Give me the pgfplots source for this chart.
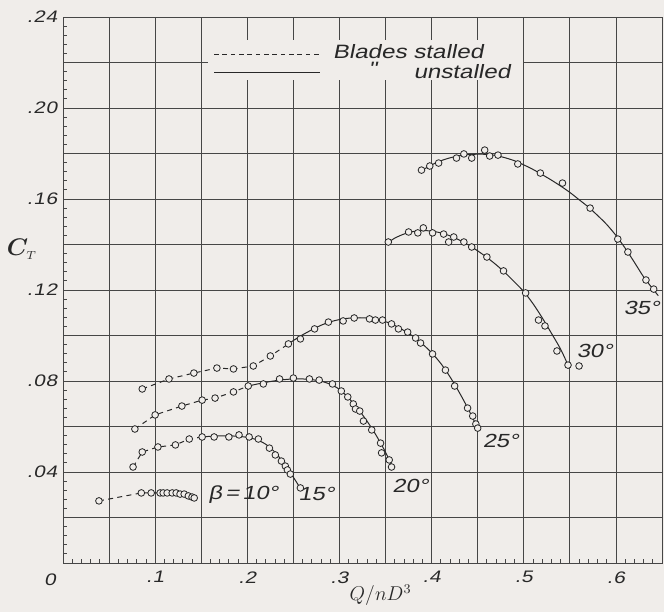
\documentclass[border=0pt]{standalone}
\usepackage{pgfplots}
\pgfplotsset{compat=1.18}
\usepackage{bm}
\usepackage{fontspec}
\usetikzlibrary{backgrounds}
\newfontfamily\lf{Liberation Sans}[FakeStretch=1.25,FakeSlant=0.2]
\definecolor{bgc}{RGB}{240,237,234}
\definecolor{linec}{RGB}{40,40,40}
\definecolor{gridc}{RGB}{70,70,70}
\pgfplotsset{
  dsh/.style={linec,line width=0.6pt,dash pattern=on 3pt off 2.6pt,mark=*,mark size=2.0pt,mark options={solid,fill=bgc,draw=linec,line width=0.5pt}},
  pts/.style={only marks,mark=*,mark size=2.0pt,mark options={solid,fill=bgc,draw=linec,line width=0.5pt}},
  crv/.style={linec,line width=0.6pt,no marks,smooth},
}
\begin{document}
\begin{tikzpicture}
\begin{axis}[name=ax,
  scale only axis, width=359.4pt, height=327.6pt,
  xmin=0, xmax=0.65, ymin=0, ymax=0.24,
  clip=false,
  xtick={0,0.05,0.1,0.15,0.2,0.25,0.3,0.35,0.4,0.45,0.5,0.55,0.6,0.65},
  xticklabels={,,.1,,.2,,.3,,.4,,.5,,.6,},
  ytick={0,0.02,0.04,0.06,0.08,0.1,0.12,0.14,0.16,0.18,0.2,0.22,0.24},
  yticklabels={,,.04,,.08,,.12,,.16,,.20,,.24},
  minor x tick num=4, minor y tick num=4,
  major tick length=0pt, minor tick length=2.6pt,
  tick pos=left, tick align=inside,
  grid=major,
  major grid style={line width=0.5pt,color=gridc},
  minor tick style={line width=0.5pt,color=gridc},
  axis line style={line width=0.6pt,color=gridc},
  ticklabel style={font=\lf\fontsize{10}{12}\selectfont\addfontfeature{LetterSpace=4},text=linec},
  xticklabel shift=1.5pt, yticklabel shift=0pt,
]
% legend patch
\fill[bgc] (axis cs:0.1576,0.2123) rectangle (axis cs:0.4995,0.2299);
\draw[linec,line width=0.6pt,dash pattern=on 2.8pt off 2.2pt] (axis cs:0.164,0.2233) -- (axis cs:0.279,0.2233);
\draw[linec,line width=0.6pt] (axis cs:0.164,0.2154) -- (axis cs:0.279,0.2154);
\node[anchor=west,inner sep=0pt,font=\lf\fontsize{11.6}{13}\selectfont,text=linec] at (axis cs:0.2924,0.2246) {Blades stalled};
\node[anchor=center,inner sep=0pt,font=\lf\fontsize{11.6}{13}\selectfont,text=linec] at (axis cs:0.336,0.2170) {"};
\node[anchor=west,inner sep=0pt,font=\lf\fontsize{11.6}{13}\selectfont,text=linec] at (axis cs:0.380,0.2158) {unstalled};

% beta = 10
\addplot[dsh] coordinates {(0.039,0.0273) (0.085,0.0308) (0.0957,0.0308) (0.1054,0.0308) (0.1087,0.0308) (0.113,0.0308) (0.1185,0.0308) (0.1228,0.0308) (0.127,0.0303) (0.1315,0.0303) (0.136,0.0295) (0.140,0.0290) (0.1424,0.0286)};

% beta = 15
\addplot[crv] coordinates {(0.151,0.0554) (0.16,0.0557) (0.17,0.0559) (0.18,0.0559) (0.19,0.0557) (0.20,0.0552) (0.21,0.0542) (0.22,0.0522) (0.23,0.0487) (0.24,0.0437) (0.25,0.0377) (0.2576,0.0328)};
\addplot[dsh] coordinates {(0.076,0.0422) (0.086,0.0488) (0.103,0.0510) (0.122,0.0519) (0.137,0.0545) (0.151,0.0554)};
\addplot[pts] coordinates {(0.164,0.0554) (0.180,0.0554) (0.191,0.0563) (0.202,0.0554) (0.212,0.0545) (0.224,0.0505) (0.2304,0.0475) (0.237,0.0448) (0.2413,0.0426) (0.2435,0.0409) (0.2467,0.0391) (0.2576,0.0330)};

% beta = 20
\addplot[crv] coordinates {(0.201,0.0778) (0.21,0.0786) (0.22,0.0794) (0.23,0.0801) (0.24,0.0806) (0.25,0.0809) (0.26,0.0809) (0.27,0.0806) (0.28,0.0799) (0.29,0.0786) (0.30,0.0763) (0.31,0.0725) (0.32,0.0678) (0.33,0.0623) (0.34,0.0560) (0.35,0.0487) (0.357,0.0425)};
\addplot[dsh] coordinates {(0.078,0.0589) (0.100,0.0651) (0.129,0.0690) (0.151,0.0716) (0.165,0.0725) (0.185,0.0752) (0.201,0.0778)};
\addplot[pts] coordinates {(0.2174,0.0787) (0.235,0.0809) (0.250,0.0813) (0.2674,0.0809) (0.278,0.0804) (0.2924,0.0787) (0.302,0.0756) (0.309,0.0730) (0.315,0.0699) (0.3174,0.0677) (0.322,0.0668) (0.326,0.0624) (0.335,0.0585) (0.3446,0.0527) (0.3457,0.0484) (0.354,0.0453) (0.3565,0.0422)};

% beta = 25
\addplot[crv] coordinates {(0.2446,0.0963) (0.25,0.0978) (0.26,0.1003) (0.27,0.1025) (0.28,0.1045) (0.29,0.1060) (0.30,0.1070) (0.31,0.1076) (0.32,0.1078) (0.33,0.1077) (0.34,0.1071) (0.35,0.1061) (0.36,0.1044) (0.37,0.1022) (0.38,0.0996) (0.39,0.0963) (0.40,0.0924) (0.41,0.0877) (0.42,0.0818) (0.43,0.0750) (0.44,0.0675) (0.45,0.0593)};
\addplot[dsh] coordinates {(0.086,0.0765) (0.115,0.0809) (0.142,0.0835) (0.167,0.0857) (0.185,0.0853) (0.2065,0.0866) (0.225,0.0910) (0.2446,0.0963)};
\addplot[pts] coordinates {(0.2576,0.0985) (0.273,0.1029) (0.288,0.1059) (0.304,0.1064) (0.316,0.1077) (0.3326,0.1073) (0.339,0.1068) (0.3467,0.1068) (0.3565,0.1051) (0.364,0.1029) (0.374,0.1015) (0.3826,0.0989) (0.388,0.0967) (0.401,0.0919) (0.415,0.0848) (0.425,0.0778) (0.439,0.0681) (0.4446,0.0646) (0.448,0.0611) (0.450,0.0593)};

% beta = 30
\addplot[crv] coordinates {(0.353,0.1409) (0.36,0.1428) (0.37,0.1446) (0.38,0.1457) (0.39,0.1461) (0.40,0.1459) (0.41,0.1451) (0.42,0.1438) (0.43,0.1420) (0.44,0.1398) (0.45,0.1372) (0.46,0.1343) (0.47,0.1311) (0.48,0.1275) (0.49,0.1235) (0.50,0.1193) (0.51,0.1140) (0.52,0.1078) (0.53,0.1010) (0.54,0.0940) (0.548,0.0870)};
\addplot[pts] coordinates {(0.353,0.1411) (0.375,0.1455) (0.385,0.1451) (0.391,0.1473) (0.401,0.1451) (0.413,0.1446) (0.4185,0.1411) (0.424,0.1433) (0.435,0.1411) (0.4435,0.1389) (0.460,0.1345) (0.478,0.1284) (0.502,0.1187) (0.516,0.1068) (0.523,0.1042) (0.536,0.0932) (0.548,0.0870) (0.560,0.0866)};

% beta = 35
\addplot[crv] coordinates {(0.389,0.1725) (0.40,0.1750) (0.41,0.1768) (0.42,0.1781) (0.43,0.1790) (0.44,0.1795) (0.45,0.1797) (0.46,0.1796) (0.47,0.1791) (0.48,0.1781) (0.49,0.1768) (0.50,0.1750) (0.51,0.1730) (0.52,0.1707) (0.53,0.1683) (0.54,0.1657) (0.55,0.1629) (0.56,0.1597) (0.57,0.1565) (0.58,0.1528) (0.59,0.1488) (0.60,0.1440) (0.61,0.1384) (0.62,0.1322) (0.63,0.1258) (0.64,0.1205) (0.646,0.1175)};
\addplot[pts] coordinates {(0.389,0.1727) (0.398,0.1745) (0.4076,0.1758) (0.427,0.1780) (0.435,0.1798) (0.4435,0.1780) (0.4576,0.1815) (0.463,0.1789) (0.472,0.1793) (0.4935,0.1754) (0.518,0.1714) (0.542,0.1670) (0.572,0.1560) (0.602,0.1424) (0.613,0.1367) (0.6326,0.1244) (0.641,0.1204)};

% curve labels
\begin{scope}[every node/.style={inner sep=0pt,font=\lf\fontsize{11.4}{13}\selectfont,text=linec}]
\node at (axis cs:0.1957,0.0299) {β\,=\,10°};
\node at (axis cs:0.275,0.0303) {15°};
\node at (axis cs:0.377,0.0338) {20°};
\node at (axis cs:0.475,0.0536) {25°};
\node at (axis cs:0.577,0.0932) {30°};
\node at (axis cs:0.628,0.1121) {35°};
\node at (axis cs:-0.0141,-0.0072) {\fontsize{10}{12}\selectfont 0};
\end{scope}
\node[inner sep=0pt,text=linec,font=\fontsize{14}{16}\selectfont] at (axis cs:-0.0446,0.1380) {$\bm{C}_{\scriptscriptstyle T}$};
\node[inner sep=0pt,text=linec,font=\fontsize{12}{14}\selectfont] at (axis cs:0.3446,-0.0141) {$Q/nD^3$};
\end{axis}
\begin{scope}[on background layer]
\fill[bgc] ([shift={(-37.8pt,-29.4pt)}]ax.south west) rectangle ([shift={(1.2pt,10.2pt)}]ax.north east);
\end{scope}
\pgfresetboundingbox
\path ([shift={(-37.8pt,-29.4pt)}]ax.south west) rectangle ([shift={(1.2pt,10.2pt)}]ax.north east);
\end{tikzpicture}
\end{document}
